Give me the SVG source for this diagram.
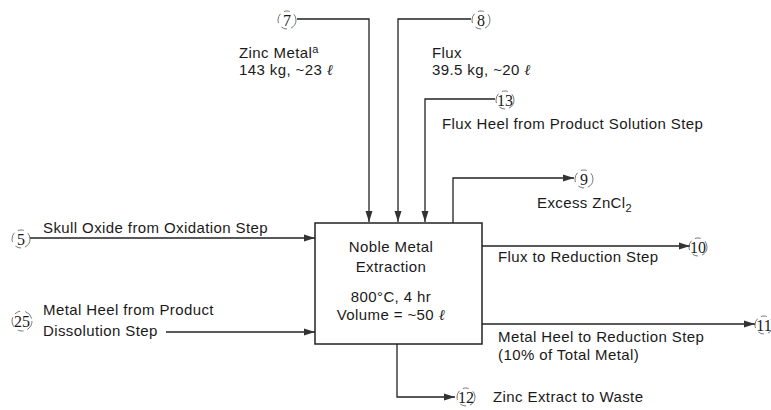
<svg xmlns="http://www.w3.org/2000/svg" width="771" height="410" viewBox="0 0 771 410">
<style>
text{font-family:"Liberation Sans",Arial,sans-serif;font-size:15px;fill:#1a1a1a;letter-spacing:0.4px}
.ln{fill:none;stroke:#222;stroke-width:1.3}
.box{fill:#fff;stroke:#222;stroke-width:1.5}
.sc{fill:none;stroke:#555;stroke-width:0.8;stroke-dasharray:10 4 6 5}
.num{text-anchor:middle;font-family:"Liberation Serif",serif;font-size:16px;letter-spacing:0}
.mid{text-anchor:middle}
.ell{font-family:"Liberation Serif",serif;font-style:italic}
</style>
<defs>
<marker id="ah" markerUnits="userSpaceOnUse" markerWidth="12" markerHeight="8" refX="11" refY="4" orient="auto">
<path d="M0,0.5 L11,4 L0,7.5 Z" fill="#333"/>
</marker>
</defs>
<rect width="771" height="410" fill="#fff"/>

<g id="connectors">
<path class="ln" d="M297,19 H369 V222" marker-end="url(#ah)"/>
<path class="ln" d="M471,19 H398 V222" marker-end="url(#ah)"/>
<path class="ln" d="M495,99 H425 V222" marker-end="url(#ah)"/>
<path class="ln" d="M453,223 V178 H574" marker-end="url(#ah)"/>
<path class="ln" d="M30,238 H315" marker-end="url(#ah)"/>
<path class="ln" d="M166,332 H315" marker-end="url(#ah)"/>
<path class="ln" d="M482,246 H690" marker-end="url(#ah)"/>
<path class="ln" d="M482,324 H755" marker-end="url(#ah)"/>
<path class="ln" d="M397,344 V397 H455" marker-end="url(#ah)"/>
</g>

<g id="extraction">
<rect class="box" x="315" y="223" width="167" height="121"/>
<text class="mid" x="391" y="252">Noble Metal</text>
<text class="mid" x="391" y="272">Extraction</text>
<text class="mid" x="391" y="302">800°C, 4 hr</text>
<text class="mid" x="391" y="320">Volume = ~50 <tspan class="ell">ℓ</tspan></text>
</g>

<g id="s7">
<circle class="sc" cx="287" cy="20" r="9"/>
<text class="num" x="287" y="26">7</text>
<text x="239" y="58">Zinc Metal<tspan font-size="11" dy="-5">a</tspan></text>
<text x="239" y="75">143 kg, ~23 <tspan class="ell">ℓ</tspan></text>
</g>

<g id="s8">
<circle class="sc" cx="481" cy="20" r="9"/>
<text class="num" x="481" y="26">8</text>
<text x="432" y="58">Flux</text>
<text x="432" y="75">39.5 kg, ~20 <tspan class="ell">ℓ</tspan></text>
</g>

<g id="s13">
<circle class="sc" cx="505" cy="100" r="9"/>
<text class="num" x="505" y="106">13</text>
<text x="442" y="129">Flux Heel from Product Solution Step</text>
</g>

<g id="s9">
<circle class="sc" cx="584" cy="179" r="9"/>
<text class="num" x="584" y="185">9</text>
<text x="537" y="208">Excess ZnCl<tspan font-size="11" dy="4">2</tspan></text>
</g>

<g id="s5">
<circle class="sc" cx="21" cy="239" r="9"/>
<text class="num" x="21" y="245">5</text>
<text x="43" y="233">Skull Oxide from Oxidation Step</text>
</g>

<g id="s25">
<circle class="sc" cx="22" cy="321" r="10"/>
<text class="num" x="22" y="327">25</text>
<text x="43" y="315">Metal Heel from Product</text>
<text x="43" y="336">Dissolution Step</text>
</g>

<g id="s10">
<circle class="sc" cx="698" cy="247" r="9"/>
<text class="num" x="698" y="253">10</text>
<text x="498" y="262">Flux to Reduction Step</text>
</g>

<g id="s11">
<circle class="sc" cx="764" cy="325" r="9"/>
<text class="num" x="764" y="331">11</text>
<text x="498" y="342">Metal Heel to Reduction Step</text>
<text x="498" y="360">(10% of Total Metal)</text>
</g>

<g id="s12">
<circle class="sc" cx="466" cy="397" r="9"/>
<text class="num" x="466" y="403">12</text>
<text x="493" y="402">Zinc Extract to Waste</text>
</g>
</svg>
